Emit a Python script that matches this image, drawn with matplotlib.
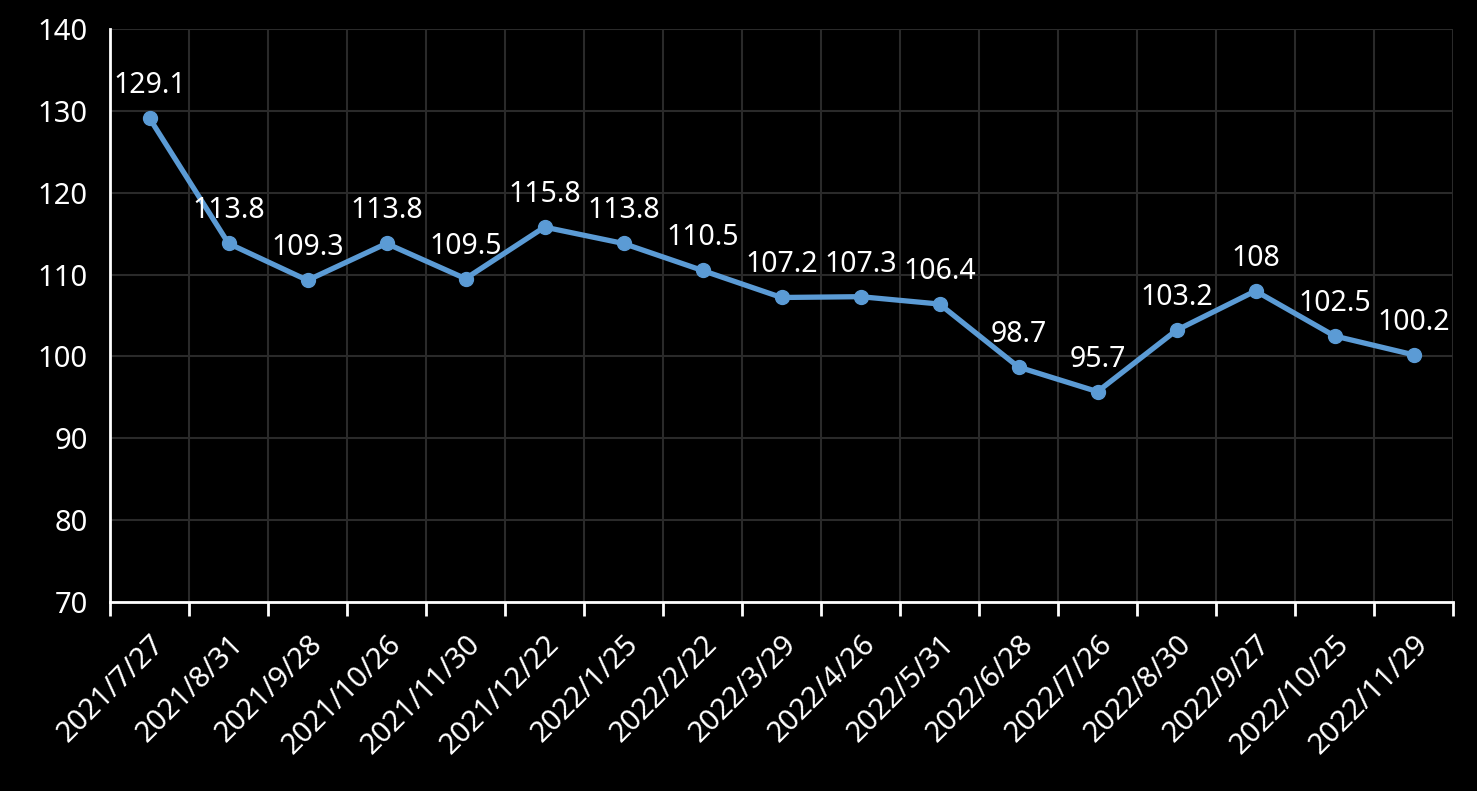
import matplotlib.pyplot as plt
import numpy as np

dates = ['2021/7/27', '2021/8/31', '2021/9/28', '2021/10/26', '2021/11/30',
         '2021/12/22', '2022/1/25', '2022/2/22', '2022/3/29', '2022/4/26',
         '2022/5/31', '2022/6/28', '2022/7/26', '2022/8/30', '2022/9/27',
         '2022/10/25', '2022/11/29']
values = [129.1, 113.8, 109.3, 113.8, 109.5, 115.8, 113.8, 110.5, 107.2,
          107.3, 106.4, 98.7, 95.7, 103.2, 108, 102.5, 100.2]
labels = ['129.1', '113.8', '109.3', '113.8', '109.5', '115.8', '113.8', '110.5',
          '107.2', '107.3', '106.4', '98.7', '95.7', '103.2', '108', '102.5', '100.2']

plt.rcParams['font.family'] = ['Noto Sans', 'DejaVu Sans']

fig = plt.figure(figsize=(14.77, 7.91), dpi=100, facecolor='black')
ax = fig.add_axes([110 / 1477, 1 - 602 / 791, (1453 - 110) / 1477, (602 - 29) / 791])
ax.set_facecolor('black')

x = np.arange(len(values))
ax.plot(x, values, color='#5B9BD5', linewidth=3.8, marker='o', markersize=10,
        zorder=3, solid_capstyle='round')

# data labels above each point
for xi, v, lab in zip(x, values, labels):
    ax.annotate(lab, (xi, v), xytext=(0, 18), textcoords='offset points',
                ha='center', va='baseline', color='white', fontsize=20.5)

ax.set_xlim(-0.5, len(values) - 0.5)
ax.set_ylim(70, 140)
ax.set_yticks(np.arange(70, 141, 10))

# category boundaries for grid + tick marks, labels at centers
ax.set_xticks(np.arange(-0.5, len(values), 1.0))
ax.set_xticklabels([])
ax.set_xticks(x, minor=True)
ax.set_xticklabels(dates, minor=True, rotation=45, ha='right',
                   rotation_mode='anchor', color='white', fontsize=21)
ax.tick_params(axis='x', which='minor', length=0, pad=20)
ax.tick_params(axis='x', which='major', length=10, width=2, color='white')
ax.tick_params(axis='y', length=0, labelsize=21, labelcolor='white', pad=16)

ax.grid(True, which='major', color='#2a2a2a', linewidth=1.5)
for s in ['top', 'right']:
    ax.spines[s].set_visible(False)
for s in ['left', 'bottom']:
    ax.spines[s].set_color('white')
    ax.spines[s].set_linewidth(2)

fig.savefig('out.png', dpi=100, facecolor='black')
